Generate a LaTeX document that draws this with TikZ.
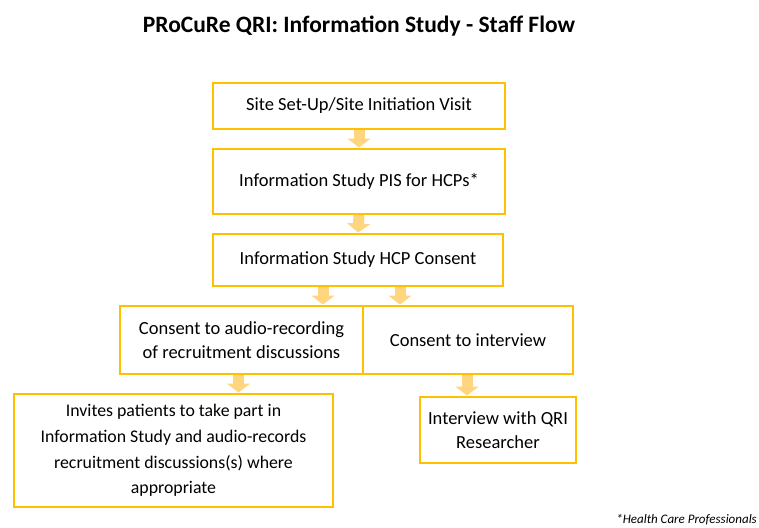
\documentclass[tikz,border=0pt]{standalone}
\usepackage{fontspec}
\setmainfont{Carlito}
\usetikzlibrary{arrows.meta}
\definecolor{boxgold}{HTML}{FFC000}
\definecolor{arrowfill}{HTML}{FFD580}
\begin{document}
\begin{tikzpicture}[x=1pt, y=-1pt, font=\fontsize{18.5}{24}\selectfont,
  main node/.style={rectangle, draw=boxgold, line width=2pt, fill=white, align=center, inner sep=2pt},
  flow/.style={arrowfill, line width=11pt, -{Triangle[width=23pt, length=9pt]}, shorten >=0.5pt}]
\useasboundingbox (0,0) rectangle (759,527);
\node[font=\fontsize{23.5}{28}\selectfont\bfseries] (title) at (359,26) {PRoCuRe QRI: Information Study - Staff Flow};
\begin{scope}
\node[main node, minimum width=292pt, minimum height=46pt] (v1) at (359,106) {Site Set-Up/Site Initiation Visit};
\node[main node, minimum width=292pt, minimum height=65pt] (v2) at (359,181.5) {Information Study PIS for HCPs*};
\node[main node, minimum width=290pt, minimum height=52pt] (v3) at (358,260) {Information Study HCP Consent};
\node[main node, minimum width=243pt, minimum height=68pt] (v4) at (241.5,340) {Consent to audio-recording\\of recruitment discussions};
\node[main node, minimum width=210pt, minimum height=68pt] (v5) at (468,340) {Consent to interview};
\node[main node, minimum width=319pt, minimum height=113pt, font=\fontsize{17.8}{25.7}\selectfont] (v6) at (173.5,450.5) {Invites patients to take part in\\Information Study and audio-records\\recruitment discussions(s) where\\appropriate};
\node[main node, minimum width=156pt, minimum height=66pt] (v7) at (498,430) {Interview with QRI\\Researcher};
%\node[main node] (v) at (,) {};
\end{scope}
\node[anchor=base east, font=\fontsize{13}{15}\selectfont\itshape, inner sep=0pt] (note) at (757,523) {*Health Care Professionals};
\begin{scope}
\draw[flow] (v1.south) -- (v2.north);
\draw[flow] (v2.south) -- (v3.north);
\draw[flow] ([xshift=-35pt]v3.south) -- ([xshift=-35pt]v3.south |- v4.north);
\draw[flow] ([xshift=42pt]v3.south) -- ([xshift=42pt]v3.south |- v5.north);
\draw[flow] ([xshift=-3pt]v4.south) -- ([xshift=-3pt]v4.south |- v6.north);
\draw[flow] ([xshift=-1pt]v5.south) -- ([xshift=-1pt]v5.south |- v7.north);
%\draw[flow] (v) -- (v);
\end{scope}
\end{tikzpicture}
\end{document}
